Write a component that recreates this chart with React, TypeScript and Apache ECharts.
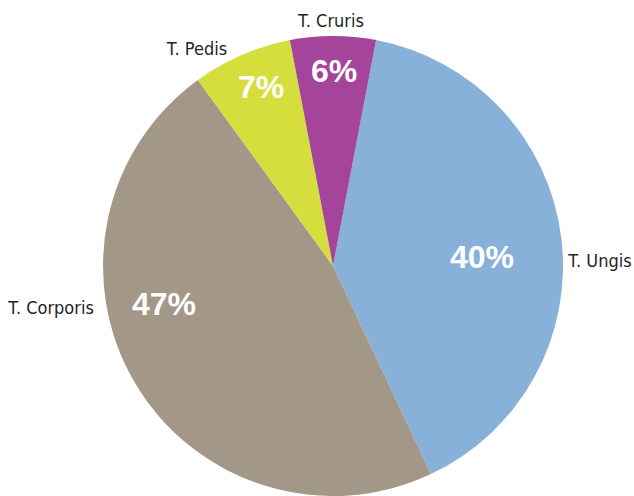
import React, { useEffect, useRef } from "react";
import * as echarts from "echarts";

const names = ["T. Ungis", "T. Corporis", "T. Pedis", "T. Cruris"];
const values = [40, 47, 7, 6];
const colors = ["#87B1D9", "#A39787", "#D6DE3E", "#A4449A"];

// label placements (style, not data)
const namePos = [
  [600, 260],
  [51, 307],
  [197, 48],
  [331, 20],
];
const pctPos = [
  [482, 257],
  [164, 304],
  [261, 87],
  [334, 71],
];

export default function App() {
  const ref = useRef<HTMLDivElement>(null);
  useEffect(() => {
    if (!ref.current) return;
    const chart = echarts.init(ref.current, undefined, { renderer: "svg" });
    const data = names.map((n, i) => ({
      name: n,
      value: values[i],
      itemStyle: { color: colors[i] },
    }));
    chart.setOption({
      animation: false,
      backgroundColor: "#ffffff",
      series: [
        {
          type: "pie",
          center: [333, 266],
          radius: [0, 230],
          startAngle: 79.2,
          clockwise: true,
          avoidLabelOverlap: false,
          silent: true,
          emphasis: { disabled: true },
          itemStyle: { borderWidth: 0 },
          label: {
            show: true,
            position: "outside",
            formatter: "{b}",
            fontFamily: "'DejaVu Sans Condensed', 'Liberation Sans Narrow', sans-serif",
            fontSize: 18,
            color: "#231F20",
          },
          labelLine: { show: false },
          labelLayout: (p: any) => ({
            x: namePos[p.dataIndex][0],
            y: namePos[p.dataIndex][1],
            align: "center",
            verticalAlign: "middle",
          }),
          data,
        },
        {
          type: "pie",
          center: [333, 266],
          radius: [0, 230],
          startAngle: 79.2,
          clockwise: true,
          avoidLabelOverlap: false,
          silent: true,
          emphasis: { disabled: true },
          itemStyle: { color: "rgba(0,0,0,0)", borderWidth: 0 },
          label: {
            show: true,
            position: "inside",
            formatter: "{c}%",
            fontFamily: "'Liberation Sans', Arial, sans-serif",
            fontWeight: "bold",
            fontSize: 32,
            color: "#ffffff",
          },
          labelLine: { show: false },
          labelLayout: (p: any) => ({
            x: pctPos[p.dataIndex][0],
            y: pctPos[p.dataIndex][1],
            align: "center",
            verticalAlign: "middle",
          }),
          data: names.map((n, i) => ({ name: n, value: values[i] })),
        },
      ],
    });
    return () => chart.dispose();
  }, []);
  return (
    <div
      ref={ref}
      style={{ position: "fixed", left: 0, top: 0, width: 634, height: 496 }}
    />
  );
}
